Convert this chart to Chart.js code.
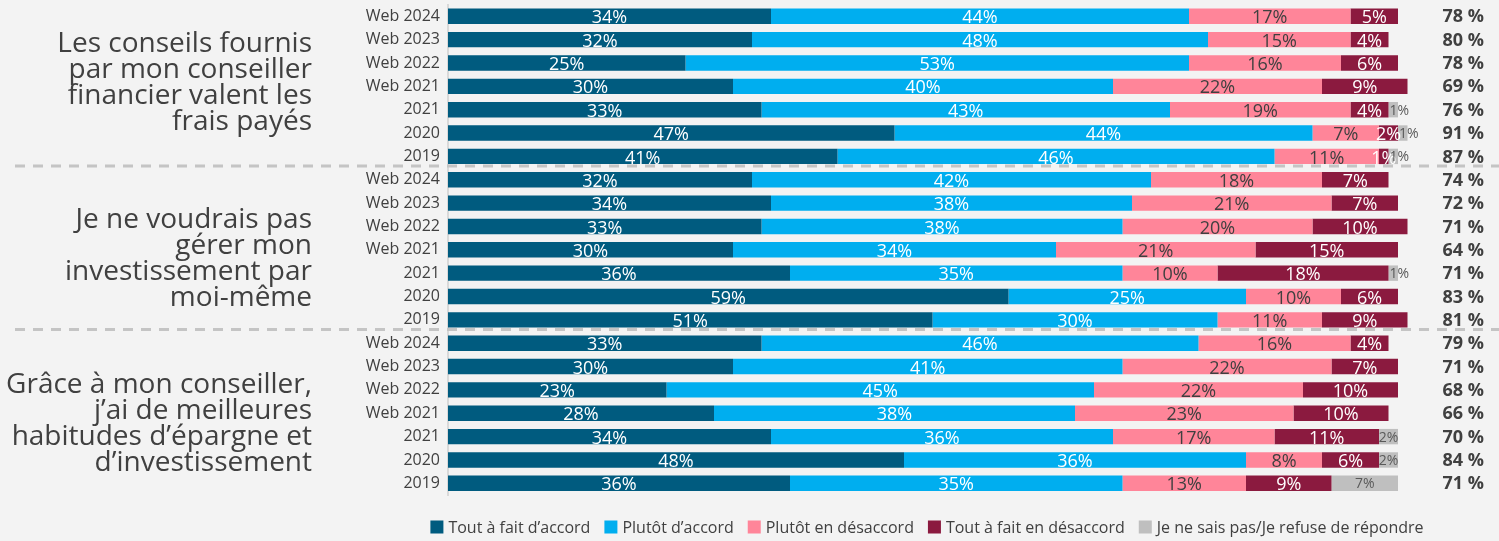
<!DOCTYPE html>
<html lang="fr">
<head>
<meta charset="utf-8">
<script src="https://cdn.jsdelivr.net/npm/chart.js@4.4.1/dist/chart.umd.min.js"></script>
<style>
    html, body { margin: 0; padding: 0; background: #f3f3f3; }
    #wrap { width: 1499px; height: 541px; }
</style>
</head>
<body>
<div id="wrap"><canvas id="graph" width="1499" height="541"></canvas></div>
<script>
// Années de sondage, répétées pour chaque énoncé
const annees = ['Web 2024', 'Web 2023', 'Web 2022', 'Web 2021', '2021', '2020', '2019'];
const lignes = [...annees, ...annees, ...annees];

const enonces = [
    ['Les conseils fournis', 'par mon conseiller', 'financier valent les', 'frais payés'],
    ['Je ne voudrais pas', 'gérer mon', 'investissement par', 'moi-même'],
    ['Grâce à mon conseiller,', 'j’ai de meilleures', 'habitudes d’épargne et', 'd’investissement']
];

const series = ['Tout à fait d’accord', 'Plutôt d’accord', 'Plutôt en désaccord', 'Tout à fait en désaccord', 'Je ne sais pas/Je refuse de répondre'];

const toutAFaitAccord = [34, 32, 25, 30, 33, 47, 41, 32, 34, 33, 30, 36, 59, 51, 33, 30, 23, 28, 34, 48, 36];
const plutotAccord = [44, 48, 53, 40, 43, 44, 46, 42, 38, 38, 34, 35, 25, 30, 46, 41, 45, 38, 36, 36, 35];
const plutotDesaccord = [17, 15, 16, 22, 19, 7, 11, 18, 21, 20, 21, 10, 10, 11, 16, 22, 22, 23, 17, 8, 13];
const toutAFaitDesaccord = [5, 4, 6, 9, 4, 2, 1, 7, 7, 10, 15, 18, 6, 9, 4, 7, 10, 10, 11, 6, 9];
const neSaisPas = [0, 0, 0, 0, 1, 1, 1, 0, 0, 0, 0, 1, 0, 0, 0, 0, 0, 0, 2, 2, 7];
const totalAccord = [78, 80, 78, 69, 76, 91, 87, 74, 72, 71, 64, 71, 83, 81, 79, 71, 68, 66, 70, 84, 71];

const couleurs = ['#005b7f', '#00aeef', '#ff8599', '#8b1a3f', '#bfbfbf'];
const couleursTexte = ['#ffffff', '#ffffff', '#404040', '#ffffff', '#595959'];
const texteGris = '#404040';
const police = "'Open Sans', sans-serif";

Chart.defaults.font.family = police;

// Étiquettes de pourcentage dans chaque segment
const etiquettesSegments = {
    id: 'etiquettesSegments',
    afterDatasetsDraw(chart) {
        const ctx = chart.ctx;
        ctx.save();
        ctx.textBaseline = 'middle';
        chart.data.datasets.forEach((ds, i) => {
            const meta = chart.getDatasetMeta(i);
            meta.data.forEach((bar, j) => {
                const v = ds.data[j];
                if (!v) return;
                const gauche = Math.min(bar.x, bar.base);
                const droite = Math.max(bar.x, bar.base);
                ctx.fillStyle = couleursTexte[i];
                if (i === 4) {
                    ctx.font = `14px ${police}`;
                    if (v <= 1) {
                        ctx.textAlign = 'left';
                        ctx.fillText(v + '%', gauche + 1, bar.y + 1);
                    } else {
                        ctx.textAlign = 'center';
                        ctx.fillText(v + '%', (gauche + droite) / 2, bar.y + 1);
                    }
                } else {
                    ctx.font = `18px ${police}`;
                    ctx.textAlign = 'center';
                    ctx.fillText(v + '%', (gauche + droite) / 2, bar.y + 2);
                }
            });
        });
        ctx.restore();
    }
};

// Lignes pointillées entre les énoncés
const separateurs = {
    id: 'separateurs',
    beforeDatasetsDraw(chart) {
        const ctx = chart.ctx;
        const y = chart.scales.y;
        ctx.save();
        ctx.strokeStyle = '#c4c4c4';
        ctx.lineWidth = 3;
        ctx.setLineDash([10, 8]);
        [6, 13].forEach(k => {
            const py = (y.getPixelForValue(k) + y.getPixelForValue(k + 1)) / 2 - 2;
            ctx.beginPath();
            ctx.moveTo(15, py);
            ctx.lineTo(chart.width, py);
            ctx.stroke();
        });
        ctx.restore();
    }
};

// Énoncés à gauche, total « d'accord » à droite et légende compacte en bas
const textesCotes = {
    id: 'textesCotes',
    afterDraw(chart) {
        const ctx = chart.ctx;
        const y = chart.scales.y;
        const zone = chart.chartArea;
        ctx.save();
        ctx.textBaseline = 'middle';
        ctx.fillStyle = texteGris;

        // décalage vertical de chaque bloc de texte par rapport au milieu du groupe
        const decalages = [-3, 9, 11];
        ctx.font = `28px ${police}`;
        ctx.textAlign = 'right';
        enonces.forEach((texte, g) => {
            const milieu = y.getPixelForValue(g * 7 + 3) + decalages[g];
            const hauteur = 26;
            texte.forEach((ligne, k) => {
                ctx.fillText(ligne, 312, milieu + (k - (texte.length - 1) / 2) * hauteur);
            });
        });

        ctx.font = `bold 18px ${police}`;
        totalAccord.forEach((t, j) => {
            ctx.fillText(t + ' %', 1484, y.getPixelForValue(j) + 1);
        });

        // légende
        ctx.font = `16px ${police}`;
        ctx.textAlign = 'left';
        const carre = 13, ecart = 5, entre = 14;
        const largeurs = chart.data.datasets.map(ds => ctx.measureText(ds.label).width);
        const total = largeurs.reduce((s, w) => s + carre + ecart + w, 0) + entre * (largeurs.length - 1);
        let x = (zone.left + zone.right) / 2 + 4 - total / 2;
        const ly = 527;
        chart.data.datasets.forEach((ds, i) => {
            ctx.fillStyle = ds.backgroundColor;
            ctx.fillRect(x, ly - carre / 2, carre, carre);
            ctx.fillStyle = texteGris;
            ctx.fillText(ds.label, x + carre + ecart, ly + 1);
            x += carre + ecart + largeurs[i] + entre;
        });
        ctx.restore();
    }
};

new Chart(document.getElementById('graph'), {
    type: 'bar',
    data: {
        labels: lignes,
        datasets: [toutAFaitAccord, plutotAccord, plutotDesaccord, toutAFaitDesaccord, neSaisPas].map((d, i) => ({
            label: series[i],
            data: d,
            backgroundColor: couleurs[i],
            borderWidth: 0,
            barPercentage: 0.66,
            categoryPercentage: 1,
            clip: false
        }))
    },
    options: {
        indexAxis: 'y',
        responsive: false,
        animation: false,
        layout: { padding: { top: 4.6, right: 101, left: 0, bottom: 46 } },
        scales: {
            x: { stacked: true, min: 0, max: 100, display: false },
            y: {
                stacked: true,
                grid: { display: false, drawTicks: false },
                border: { color: '#d9d9d9', width: 2 },
                ticks: { color: texteGris, font: { size: 16 }, padding: 8, autoSkip: false },
                afterFit(scale) {
                    scale.width = 448;
                    scale.paddingTop = 0;
                    scale.paddingBottom = 0;
                }
            }
        },
        plugins: {
            tooltip: { enabled: false },
            legend: { display: false }
        }
    },
    plugins: [separateurs, etiquettesSegments, textesCotes]
});
</script>
</body>
</html>
